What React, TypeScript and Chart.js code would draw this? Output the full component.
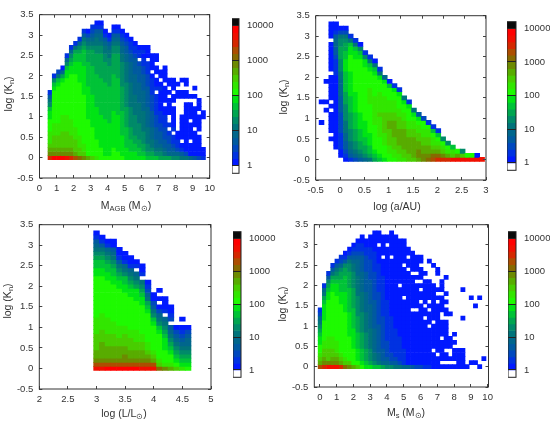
import React, { useEffect, useRef } from "react";
import { Chart, registerables } from "chart.js";

Chart.register(...registerables);

const FONT = '"Liberation Sans", Arial, sans-serif';
const LEVEL_CODES = "0123456789abcdefghijkl";
const COLOR_EDGES = [1, 1.58, 2.51, 3.98, 6.31, 10, 15.8, 25.1, 39.8, 63.1, 100, 158, 251, 398, 631, 1000, 1585, 2512, 3981, 6310, 10000, 15800];
const LEVEL_COLORS = [
  "rgb(0,25,255)", "rgb(0,50,225)", "rgb(0,72,190)", "rgb(0,90,160)", "rgb(0,102,140)",
  "rgb(0,115,122)", "rgb(0,138,105)", "rgb(0,165,80)", "rgb(0,195,55)", "rgb(0,228,20)",
  "rgb(30,250,0)", "rgb(50,230,0)", "rgb(72,205,0)", "rgb(88,172,0)", "rgb(108,138,0)",
  "rgb(135,105,0)", "rgb(172,78,0)", "rgb(212,40,0)", "rgb(240,15,0)", "rgb(255,0,0)",
  "rgb(10,10,10)",
];
const BAR_WHITE = [0.63, 1];
const BAR_TICKS = [1, 10, 100, 1000, 10000];
const Y_TICKS = [-0.5, 0, 0.5, 1, 1.5, 2, 2.5, 3, 3.5];

const MAGB_TICKS = [0, 1, 2, 3, 4, 5, 6, 7, 8, 9, 10];
const A_TICKS = [-0.5, 0, 0.5, 1, 1.5, 2, 2.5, 3];
const L_TICKS = [2, 2.5, 3, 3.5, 4, 4.5, 5];
const MS_TICKS = [0, 1, 2, 3, 4, 5, 6, 7, 8, 9, 10];

// Each string is one x bin, read from the bottom row (log Kn = 0) upward. "." = empty cell.
const MAGB_COLUMNS = [
  "hedcbbbaaa9986531",
  "jedcccbbbaaaaaaaa9861",
  "jedcccbbbaaaaaaaaa9852",
  "jedccccbbbbaaaaaaaa9740",
  "iedccccbbbbaaaaaaaaa998641",
  "hedcccbbbbaaaaaaaaaaa9987641",
  "gdcccbbbaaaaaaaaaaaaa99988751",
  "fccbbbaaaaaaaaaaaaa99999887641",
  "ecbbaaaaaaaaaaaa9999999888876531",
  "daaaaaaaaa9999999988888877765420",
  "caaaaaaa9999999988888887777654321",
  "baaaa99999999888888887777766554310",
  "aaa9999999988888888877777766544310",
  "a9999999998888888887777766554310",
  "a999999998888888887777766554310",
  "aaa999999999888888888777776654310",
  "aa99999999988888888877777766543 10".split(" ").join(""),
  "a99999888888777777666666554432 10".split(" ").join(""),
  "9998888877777666666555554433210",
  "998887776666655555544444332110",
  "99887766666555554444433332110",
  "988776666555554444433332.110",
  "9877666555554444433332211010",
  "876655554444433333222111.000",
  "876554443333222211110.0000",
  "865443332221111 1.100.00.00".split(" ").join(""),
  "76543332211100000 10.00".split(" ").join(""),
  "7543322211100.0000.0000",
  "7433221.1..0000.0.00",
  "643211.100000.00.000",
  "6421100........00.0",
  "5310.000000....00..0",
  "52000000000000.00.00",
  "4000.0000.0000.0",
  "3000000.00000..0.0",
  "200000.0000.000",
  "100.......00",
];

const A_COLUMNS = [
  ".........0....0",
  "............0.0....0",
  ".....0.00000.0.000000.0000000.0000",
  "...0000000000000000001111233443100",
  ".00111122222333344445566677766520",
  "012334455566667778888899988776520",
  "1345566677778888999999aaaa99851",
  "24566777888899999aaaaaaaa99851",
  "356778889999aaaaaaaaaaaaa9860",
  "4677889999aaaaaaaaaaaaa9961",
  "5788999aaaaaaabbbbaaaa9851",
  "789aaaaaabbbbbbbaaaaa9850",
  "89aaaabbbbbcbbbbbaaa951",
  "9aaabbbcccccbbbbaaa94",
  "aabbccccddccbbbaaa80",
  "abbcccddddccbbbaa91",
  "bbccddddcccbbaaa91",
  "bccdddddccbbaa95",
  "ccddddccbbaaa91",
  "cdddddccbba95",
  "deeddccbba93",
  "eeddccbbaa2",
  "feddccbba1",
  "gfdcbba81",
  "hfdcba81",
  "hecba6",
  "hdba6",
  "icb8",
  "ida",
  "ic6",
  "ia",
  "ia",
  "i0",
  "i",
];

const L_COLUMNS = [
  "igeddccccbbbbaaaaaaaaaa99887654310",
  "igeddddcccbbbbaaaaaaaaa9988765310",
  "jgedddcccbbbbaaaaaaaaa9988765410",
  "jgedddcccbbbaaaaaaaaa99887654300",
  "jgedddccbbbaaaaaaaaa9987653100",
  "jgeeddcccbbaaaaaaaa9988654100",
  "jgeddcccbbaaaaaaaa9987654100",
  "jgeddccbbbaaaaaaa9997654.10",
  "igeddccbbaaaaaaa998765.100",
  "igedcbbaaaaaaa98754210",
  "igdcbaaaaaa98653200",
  "fcbaaaaaa9865420.0.0",
  "ebaaa99987654.1000",
  "dbaa9876543.2100",
  "ca987654320",
  "b9876543210.0",
  "a9876544320",
];

const MS_COLUMNS = [
  "gdcbaa998765421",
  "hedccbbaaaaa999987541",
  "iecccbbbaaaaaaaaa9987631",
  "iedccbbbaaaaaaaaaaa9987531",
  "iedcbbbaaaaaaaaaaa999876531",
  "hdcbaaaaaaaaaaaa999888776421",
  "fcbaaaaaaaaaaa999998888776310",
  "ecaaaaaa9999998888887777665310",
  "daaaa99999888887777766665543210",
  "ca999888877776666655555444432110",
  "a98887777666665555544444333321100",
  "98777666655555444443333322221100",
  "976665555544444433333322222111000",
  "8655444444333333322222221111100000",
  "854433333332222222211111110000.000",
  "743332222222211111111110000.00000",
  "643222211111111110000000000000.00",
  "632211111111100000000000000.000000",
  "532111111100000000000000000000000",
  "52111111000000000000.00000000000",
  "41111000000000000.0000000.000000",
  "400000000000000000000000.00.00",
  "30000000000000.00000000.00000",
  "20000000000000.000000.0.0000",
  "2000000000000000.00.0.000.00",
  "100000000000.00.000000.0",
  "1000000000.000.0.00000....0",
  "0000.000000.000000000....0",
  "000.000000000000.0.0...00",
  "0.00000.0000..0000.000",
  "0.00.0000000.00.0.0...0",
  "0.0..000.....0",
  "0.000.0.0",
  "00000",
  "00000.......0......0",
  "0",
  ".0...............0",
  ".0.............0",
  "0................0",
  "..0",
];

const LAYOUTS = [
  { columns: MAGB_COLUMNS, first: 0.625, step: 0.25, xMin: 0, xMax: 10, xTicks: MAGB_TICKS, left: 39.5, right: 210.7, top: 8, bottom: 178.3, cLeft: 232.3, cRight: 239.3, cTop: 12.7, cBottom: 178.7, ox: 0, oy: 0 },
  { columns: A_COLUMNS, first: -0.38, step: 0.1, xMin: -0.5, xMax: 3, xTicks: A_TICKS, left: 40.7, right: 210.7, top: 8.7, bottom: 179.3, cLeft: 231.7, cRight: 240.7, cTop: 16, cBottom: 175.7, ox: 275, oy: 0 },
  { columns: L_COLUMNS, first: 3, step: 0.1, xMin: 2, xMax: 5, xTicks: L_TICKS, left: 39.3, right: 210.7, top: 6.7, bottom: 177.7, cLeft: 233, cRight: 241, cTop: 15.3, cBottom: 172.7, ox: 0, oy: 211 },
  { columns: MS_COLUMNS, first: 0.025, step: 0.25, xMin: -0.33, xMax: 10.05, xTicks: MS_TICKS, left: 39.3, right: 214, top: 7.3, bottom: 176.7, cLeft: 232.7, cRight: 240.7, cTop: 15.3, cBottom: 172, ox: 275, oy: 211 },
];

const frame = {
  id: "frame",
  afterDraw(chart: any, _a: any, opts: any) {
    const { left, right, top, bottom } = chart.chartArea;
    const { ctx } = chart;
    ctx.save();
    ctx.strokeStyle = opts.color || "#333";
    ctx.lineWidth = 1;
    ctx.strokeRect(left, top, right - left, bottom - top);
    ctx.restore();
  },
};

function cellsOf(p: any) {
  const pts: any[] = [];
  const colors: string[] = [];
  p.columns.forEach((col: string, k: number) => {
    col.split("").forEach((c: string, r: number) => {
      if (c === ".") return;
      const y = r / 10;
      pts.push({ x: p.first + p.step * k, y: [y - 0.05, y + 0.05] });
      colors.push(LEVEL_COLORS[LEVEL_CODES.indexOf(c)]);
    });
  });
  return { pts, colors };
}

const setTicks = (values: number[]) => (s: any) => {
  s.ticks = values.map((value) => ({ value }));
};
const inward = { drawOnChartArea: false, drawTicks: true, tickLength: -3, color: "#444", z: 1 };
const noBorder = { display: false };

function PanelChart({ p }: { p: any }) {
  const ref = useRef<HTMLCanvasElement>(null);
  useEffect(() => {
    const { pts, colors } = cellsOf(p);
    const bottomSpace = 28;
    const chart = new Chart(ref.current as any, {
      type: "bar",
      data: { datasets: [{ data: pts as any, backgroundColor: colors, borderWidth: 0, barPercentage: 1, categoryPercentage: 1, grouped: false } as any] },
      plugins: [frame],
      options: {
        animation: false,
        responsive: false,
        layout: { padding: { top: 8, right: 12, left: 0, bottom: 0 } },
        plugins: { legend: { display: false }, tooltip: { enabled: false } },
        scales: {
          x: {
            type: "linear", min: p.xMin, max: p.xMax, position: "bottom", offset: false,
            afterBuildTicks: setTicks(p.xTicks), afterFit: (s: any) => { s.height = bottomSpace; },
            grid: { ...inward, offset: false }, border: noBorder,
            ticks: { autoSkip: false, maxRotation: 0, padding: 8, color: "#333", font: { family: FONT, size: 9.5 }, callback: (v: any) => String(v) },
          },
          y: {
            type: "linear", min: -0.5, max: 3.5, position: "left",
            afterBuildTicks: setTicks(Y_TICKS), afterFit: (s: any) => { s.width = p.left; },
            grid: inward, border: noBorder,
            ticks: { autoSkip: false, padding: 9, color: "#333", font: { family: FONT, size: 9.5 }, callback: (v: any) => String(v) },
          },
          x2: {
            type: "linear", min: p.xMin, max: p.xMax, position: "top",
            afterBuildTicks: setTicks(p.xTicks), afterFit: (s: any) => { s.height = 0; },
            grid: inward, border: noBorder, ticks: { display: false, autoSkip: false },
          },
          y2: {
            type: "linear", min: -0.5, max: 3.5, position: "right",
            afterBuildTicks: setTicks(Y_TICKS), afterFit: (s: any) => { s.width = 0; },
            grid: inward, border: noBorder, ticks: { display: false, autoSkip: false },
          },
        },
      } as any,
    });
    return () => chart.destroy();
  }, [p]);
  return (
    <canvas
      ref={ref}
      width={Math.round(p.right + 12)}
      height={Math.round(p.bottom - p.top + 36)}
      style={{ position: "absolute", left: p.ox, top: p.oy + p.top - 8, display: "block" }}
    />
  );
}

function ColorBar({ p }: { p: any }) {
  const ref = useRef<HTMLCanvasElement>(null);
  useEffect(() => {
    const pts: any[] = [{ x: 0, y: BAR_WHITE }];
    const colors: string[] = ["#ffffff"];
    LEVEL_COLORS.forEach((c, i) => {
      pts.push({ x: 0, y: [COLOR_EDGES[i], COLOR_EDGES[i + 1]] });
      colors.push(c);
    });
    const chart = new Chart(ref.current as any, {
      type: "bar",
      data: { datasets: [{ data: pts as any, backgroundColor: colors, borderWidth: 0, barPercentage: 1, categoryPercentage: 1, grouped: false } as any] },
      plugins: [frame],
      options: {
        animation: false,
        responsive: false,
        layout: { padding: { top: 8, bottom: 8, left: 0, right: 0 } },
        plugins: { legend: { display: false }, tooltip: { enabled: false }, frame: { color: "#222" } },
        scales: {
          x: { type: "linear", min: -1, max: 1, display: false, offset: false },
          y: {
            type: "logarithmic", min: 0.63, max: 15800, position: "right",
            afterBuildTicks: setTicks(BAR_TICKS), afterFit: (s: any) => { s.width = 40; },
            grid: { drawOnChartArea: true, drawTicks: false, color: "#222", z: 1 }, border: noBorder,
            ticks: { autoSkip: false, padding: 8, color: "#333", font: { family: FONT, size: 9.5 }, callback: (v: any) => String(v) },
          },
        },
      } as any,
    });
    return () => chart.destroy();
  }, [p]);
  return (
    <canvas
      ref={ref}
      width={Math.round(p.cRight - p.cLeft + 40)}
      height={Math.round(p.cBottom - p.cTop + 16)}
      style={{ position: "absolute", left: p.ox + p.cLeft, top: p.oy + p.cTop - 8, display: "block" }}
    />
  );
}

const label: React.CSSProperties = { position: "absolute", fontFamily: FONT, fontSize: 10.5, color: "#333", whiteSpace: "nowrap", lineHeight: "12px" };
const sub: React.CSSProperties = { fontSize: 7.5, verticalAlign: "-2px", lineHeight: 0 };

function XTitle({ cx, cy, children }: any) {
  return <div style={{ ...label, left: cx, top: cy, transform: "translate(-50%,-50%)" }}>{children}</div>;
}
function YTitle({ cx, cy }: any) {
  return (
    <div style={{ ...label, left: cx, top: cy, transform: "translate(-50%,-50%) rotate(-90deg)" }}>
      log (K<span style={sub}>n</span>)
    </div>
  );
}

export default function App() {
  return (
    <div style={{ position: "absolute", left: 0, top: 0, width: 550, height: 423, background: "#fff", overflow: "hidden" }}>
      {LAYOUTS.map((p, i) => (
        <React.Fragment key={i}>
          <PanelChart p={p} />
          <ColorBar p={p} />
        </React.Fragment>
      ))}
      <YTitle cx={8} cy={94} />
      <YTitle cx={283} cy={97} />
      <YTitle cx={7} cy={301} />
      <YTitle cx={282} cy={304} />
      <XTitle cx={126} cy={205}>M<span style={sub}>AGB</span> (M<span style={sub}>⊙</span>)</XTitle>
      <XTitle cx={397} cy={206}>log (a/AU)</XTitle>
      <XTitle cx={124} cy={413}>log (L/L<span style={sub}>⊙</span>)</XTitle>
      <XTitle cx={406} cy={412}>M<span style={sub}>s</span> (M<span style={sub}>⊙</span>)</XTitle>
    </div>
  );
}
